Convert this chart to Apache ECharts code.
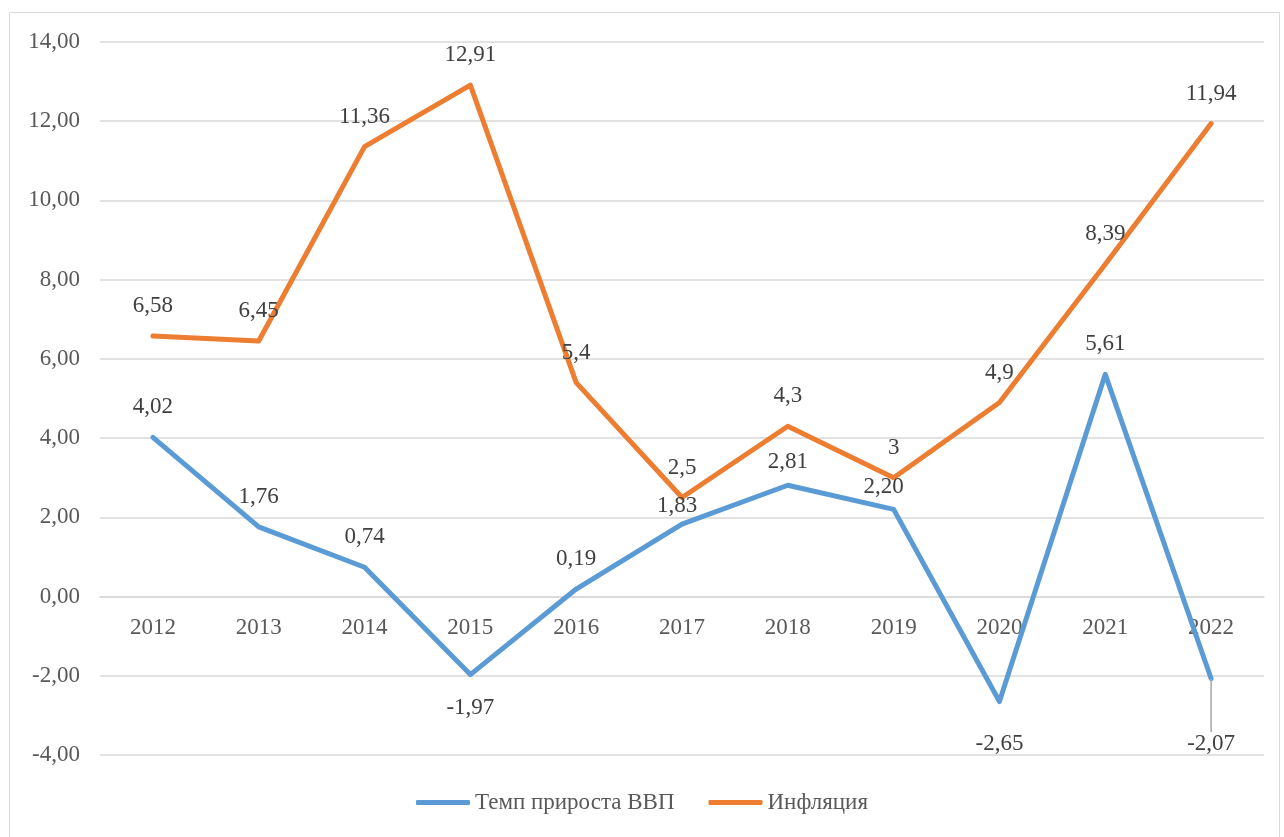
<!DOCTYPE html>
<html>
<head>
<meta charset="utf-8">
<script src="https://cdn.jsdelivr.net/npm/echarts@6/dist/echarts.min.js"></script>
<style>
  html, body { margin: 0; padding: 0; background: #fff; }
  #chart { width: 1284px; height: 837px; }
</style>
</head>
<body>
<div id="chart"></div>
<script>
const years = ['2012', '2013', '2014', '2015', '2016', '2017', '2018', '2019', '2020', '2021', '2022']
const gdpGrowth = [4.02, 1.76, 0.74, -1.97, 0.19, 1.83, 2.81, 2.20, -2.65, 5.61, -2.07]
const inflation = [6.58, 6.45, 11.36, 12.91, 5.4, 2.5, 4.3, 3, 4.9, 8.39, 11.94]
const seriesNames = ['Темп прироста ВВП', 'Инфляция']

const font = '"Liberation Serif", "Times New Roman", serif'
const comma = s => String(s).replace('.', ',')

const yMin = -4, yMax = 14
const gridTop = 42, gridBottom = 82
// move the category axis up to the zero line
const zeroOffset = -(0 - yMin) / (yMax - yMin) * (837 - gridTop - gridBottom)

// hand placed labels (like in the original workbook)
const gdpLabelShift = {
  3: [0, 3],
  5: [-5, 12],
  6: [0, 7],
  7: [-10, 8],
  8: [0, 12],
  10: [0, 35]
}

const chart = echarts.init(document.getElementById('chart'))
chart.setOption({
  backgroundColor: '#fff',
  animation: false,
  textStyle: { fontFamily: font },
  graphic: [{
    type: 'rect',
    shape: { x: 9.5, y: 12.5, width: 1270, height: 840 },
    style: { fill: 'none', stroke: '#D9D9D9', lineWidth: 1 },
    z: -1
  }],
  grid: { left: 100, right: 20, top: gridTop, bottom: gridBottom },
  legend: {
    bottom: 18,
    left: 'center',
    icon: 'roundRect',
    itemWidth: 54,
    itemHeight: 5,
    itemGap: 34,
    textStyle: { fontFamily: font, fontSize: 23, color: '#595959' },
    data: seriesNames
  },
  xAxis: {
    type: 'category',
    data: years,
    boundaryGap: true,
    offset: zeroOffset,
    axisLine: { onZero: false, lineStyle: { color: '#D9D9D9', width: 1.5 } },
    axisTick: { show: false },
    axisLabel: { fontFamily: font, fontSize: 23, color: '#595959', margin: 20 }
  },
  yAxis: {
    type: 'value',
    min: yMin,
    max: yMax,
    interval: 2,
    axisLine: { show: false },
    axisTick: { show: false },
    splitLine: { lineStyle: { color: '#D9D9D9', width: 1.5 } },
    axisLabel: {
      fontFamily: font, fontSize: 23, color: '#595959', margin: 20,
      formatter: v => comma(v.toFixed(2))
    }
  },
  series: [
    {
      name: seriesNames[0],
      type: 'line',
      data: gdpGrowth.map((v, i) => ({
        value: v,
        label: { position: v < 0 ? 'bottom' : 'top' },
        labelLine: { show: i === 10 }
      })),
      symbol: 'circle',
      symbolSize: 1,
      showSymbol: true,
      lineStyle: { color: '#5B9BD5', width: 5, cap: 'round', join: 'round' },
      itemStyle: { color: '#5B9BD5' },
      label: {
        show: true,
        distance: 18,
        fontFamily: font,
        fontSize: 23,
        color: '#404040',
        formatter: p => comma(p.value.toFixed(2))
      },
      labelLine: { lineStyle: { color: '#A6A6A6', width: 1.5 } },
      labelLayout: p => {
        const s = gdpLabelShift[p.dataIndex]
        return s ? { dx: s[0], dy: s[1] } : {}
      }
    },
    {
      name: seriesNames[1],
      type: 'line',
      data: inflation,
      symbol: 'circle',
      symbolSize: 1,
      showSymbol: true,
      lineStyle: { color: '#ED7D31', width: 5, cap: 'round', join: 'round' },
      itemStyle: { color: '#ED7D31' },
      label: {
        show: true,
        position: 'top',
        distance: 18,
        fontFamily: font,
        fontSize: 23,
        color: '#404040',
        formatter: p => comma(p.value)
      }
    }
  ]
})
</script>
</body>
</html>
